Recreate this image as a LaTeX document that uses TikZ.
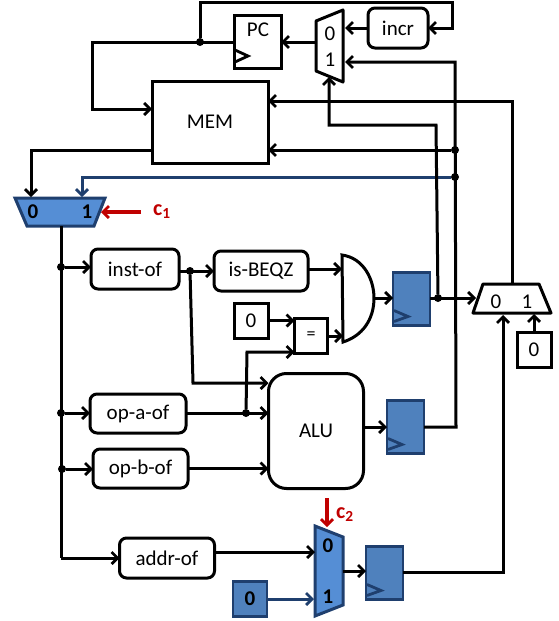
\documentclass[tikz,border=0pt]{standalone}
\usepackage{fontspec}
\setmainfont{Carlito}
\usetikzlibrary{arrows.meta}
\definecolor{navyline}{HTML}{1F3F6E}
\definecolor{regfill}{HTML}{4F81BD}
\definecolor{muxfill}{HTML}{558ED5}
\definecolor{ctrlred}{HTML}{C00000}
\tikzset{
    wire/.style={line width=3pt},
    navywire/.style={line width=3pt,color=navyline},
    ctrlwire/.style={line width=3.6pt,color=ctrlred},
    box/.style={draw,line width=3pt,inner sep=0pt,outer sep=0pt,font=\fontsize{21}{23}\selectfont},
    logic/.style={box,rounded corners=7pt},
    reg/.style={draw=navyline,fill=regfill,line width=2.8pt,inner sep=0pt,outer sep=0pt,minimum width=37pt,minimum height=53pt},
    clk/.style={line width=2.8pt,color=navyline},
    jdot/.style={circle,fill=black,inner sep=0pt,minimum size=8pt},
    muxlabel/.style={inner sep=0pt,font=\fontsize{21}{23}\selectfont},
    muxbold/.style={muxlabel,font=\fontsize{21}{23}\selectfont\bfseries},
    ctrllabel/.style={inner sep=0pt,text=ctrlred,font=\fontsize{22}{24}\selectfont\bfseries}
}
\begin{document}
\begin{tikzpicture}[x=1pt,y=-1pt,>={Straight Barb[length=6pt,width=12pt,line width=2.8pt]}]
\useasboundingbox (0,0) rectangle (558,621);

% boxes
\node[box,minimum width=47pt,minimum height=53pt] (pc) at (257.5,41.5) {};
\node at (258,30) [inner sep=0pt,font=\fontsize{21}{23}\selectfont] (pclabel) {PC};
\node[box,minimum width=116pt,minimum height=82pt] (mem) at (210,122) {\raisebox{-1.5pt}{MEM}};
\node[logic,minimum width=60pt,minimum height=40pt] (incr) at (398,28) {incr};
\node[logic,minimum width=88pt,minimum height=40pt] (instof) at (135,269) {inst-of};
\node[logic,minimum width=94pt,minimum height=40pt] (isbeqz) at (261,271) {is-BEQZ};
\node[logic,minimum width=96pt,minimum height=39pt] (opaof) at (138,413.5) {op-a-of};
\node[logic,minimum width=95pt,minimum height=39pt] (opbof) at (140.5,468.5) {op-b-of};
\node[logic,minimum width=95pt,minimum height=40pt] (addrof) at (167,558) {addr-of};
\node[box,rounded corners=18pt,minimum width=95pt,minimum height=115pt] (alu) at (316,431) {ALU};
\node[box,minimum width=34pt,minimum height=35pt] (zeroa) at (251,320.5) {0};
\node[box,minimum width=33pt,minimum height=35pt] (equal) at (311,335.5) {\fontsize{18}{20}\selectfont =};
\node[box,minimum width=34pt,minimum height=35pt] (zerob) at (534,349.5) {0};
\node[reg,minimum width=34pt,minimum height=35pt,font=\fontsize{21}{23}\selectfont\bfseries] (zeroc) at (250,599) {0};

% registers
\node[reg] (rega) at (411.5,299) {};
\node[reg] (regb) at (405.5,427) {};
\node[reg] (regc) at (384.5,573) {};
\foreach \regname in {rega,regb,regc}
{
    \draw[clk](\regname.south west)++(1,-15)--++(14,6)--++(-14,5);
}
\draw[line width=2.8pt](pc.south west)++(1,-18)--++(13,6)--++(-13,6);

% muxes
\draw[line width=3pt,line join=round](343,10)--(316,21)--(316,71)--(343,82)--cycle;
\node[muxlabel] (pcmuxa) at (330,34) {0};
\node[muxlabel] (pcmuxb) at (330,60) {1};
\draw[line width=3pt,line join=round](483,284)--(539,284)--(551,313)--(473,313)--cycle;
\node[muxlabel] (outmuxa) at (496,302) {0};
\node[muxlabel] (outmuxb) at (527,302) {1};
\draw[draw=navyline,fill=muxfill,line width=3pt](15,198)--(105,198)--(94,226)--(27,226)--cycle;
\node[muxbold] (memmuxa) at (33,212) {0};
\node[muxbold] (memmuxb) at (87,212) {1};
\draw[draw=navyline,fill=muxfill,line width=3pt](315,526)--(343,537)--(343,605)--(315,616)--cycle;
\node[muxbold] (addrmuxa) at (328,546) {0};
\node[muxbold] (addrmuxb) at (328,597) {1};

% and gate
\draw[line width=3pt](342,255)..controls(364,258)and(374,280)..(374,298)..controls(374,320)and(362,336)..(343,342)--cycle;

% junctions
\foreach \name/\pos in {jpc/{200,42},jmem/{455,150},jblue/{455,177},jinst/{190,271},jreg/{438,298},jopa/{246,413},jstem/{61,267},jstema/{61,413},jstemb/{62,469}}
{
    \node[jdot] (\name) at (\pos) {};
}

% free ends
\coordinate (pcmuxout) at (316,42);
\coordinate (pcmuxin) at (345,28);
\coordinate (pcmuxalt) at (345,62);
\coordinate (pcmuxsel) at (329,77);
\coordinate (outmuxtop) at (512,284);
\coordinate (outmuxin) at (476,298);
\coordinate (outmuxalt) at (503,315);
\coordinate (outmuxsel) at (534,314);
\coordinate (memmuxin) at (31,197);
\coordinate (memmuxblue) at (82,197);
\coordinate (memmuxctrl) at (101,212);
\coordinate (memmuxout) at (61,226);
\coordinate (addrmuxtop) at (327,527);
\coordinate (addrmuxin) at (315,552);
\coordinate (addrmuxlow) at (314,599);
\coordinate (addrmuxout) at (343,571);
\coordinate (andin) at (342,269);
\coordinate (andlow) at (343,336);
\coordinate (andout) at (374,298);

% wires
\draw[navywire,->](jblue)--(82,177)--(memmuxblue);
\draw[navywire,->](zeroc)--(addrmuxlow);
\draw[wire,->](pcmuxout)--(pc.east|-pcmuxout);
\draw[wire,->](incr)--(pcmuxin);
\draw[wire,->](jpc)--(200,2)--(452,2)--(452,28)--(incr.east);
\draw[wire,->](pc.west|-jpc)--(92,42)--(92,109)--(mem.west|-0,109);
\draw[wire,->](mem.west|-0,150)--(31,150)--(memmuxin);
\draw[wire,->](regb.east)--(456,427)--(455,62)--(pcmuxalt);
\draw[wire,->](jmem)--(mem.east|-jmem);
\draw[wire,->](outmuxtop)--(512,101)--(mem.east|-0,101);
\draw[wire,->](jreg)--(436,125)--(329,125)--(pcmuxsel);
\draw[wire,->](rega.east|-jreg)--(outmuxin);
\draw[wire,->](regc.east|-0,572)--(503,572)--(outmuxalt);
\draw[wire,->](zerob)--(outmuxsel);
\draw[wire](memmuxout)--(61,558);
\draw[wire,->](61,558)--(addrof.west);
\draw[wire,->](jstem)--(instof.west|-jstem);
\draw[wire,->](jstema)--(opaof.west|-jstema);
\draw[wire,->](jstemb)--(opbof.west|-jstemb);
\draw[wire,->](instof.east|-jinst)--(isbeqz.west|-jinst);
\draw[wire,->](jinst)--(193,383)--(alu.west|-0,383);
\draw[wire,->](isbeqz.east|-andin)--(andin);
\draw[wire,->](andout)--(rega.west|-andout);
\draw[wire,->](zeroa)--(equal.west|-zeroa);
\draw[wire,->](jopa)--(247,352)--(equal.west|-0,352);
\draw[wire,->](equal.east|-andlow)--(andlow);
\draw[wire,->](opaof.east|-jopa)--(alu.west|-jopa);
\draw[wire,->](opbof.east)--(alu.west|-opbof);
\draw[wire,->](alu.east|-regb)--(regb.west);
\draw[wire,->](addrof.east|-addrmuxin)--(addrmuxin);
\draw[wire,->](addrmuxout)--(regc.west|-addrmuxout);

% control signals
\draw[ctrlwire,->](141,212)--(memmuxctrl);
\draw[ctrlwire,->](327,498)--(addrmuxtop);
\node[ctrllabel] (cone) at (162,212) {c\textsubscript{1}};
\node[ctrllabel] (ctwo) at (345,515) {c\textsubscript{2}};

\end{tikzpicture}
\end{document}
